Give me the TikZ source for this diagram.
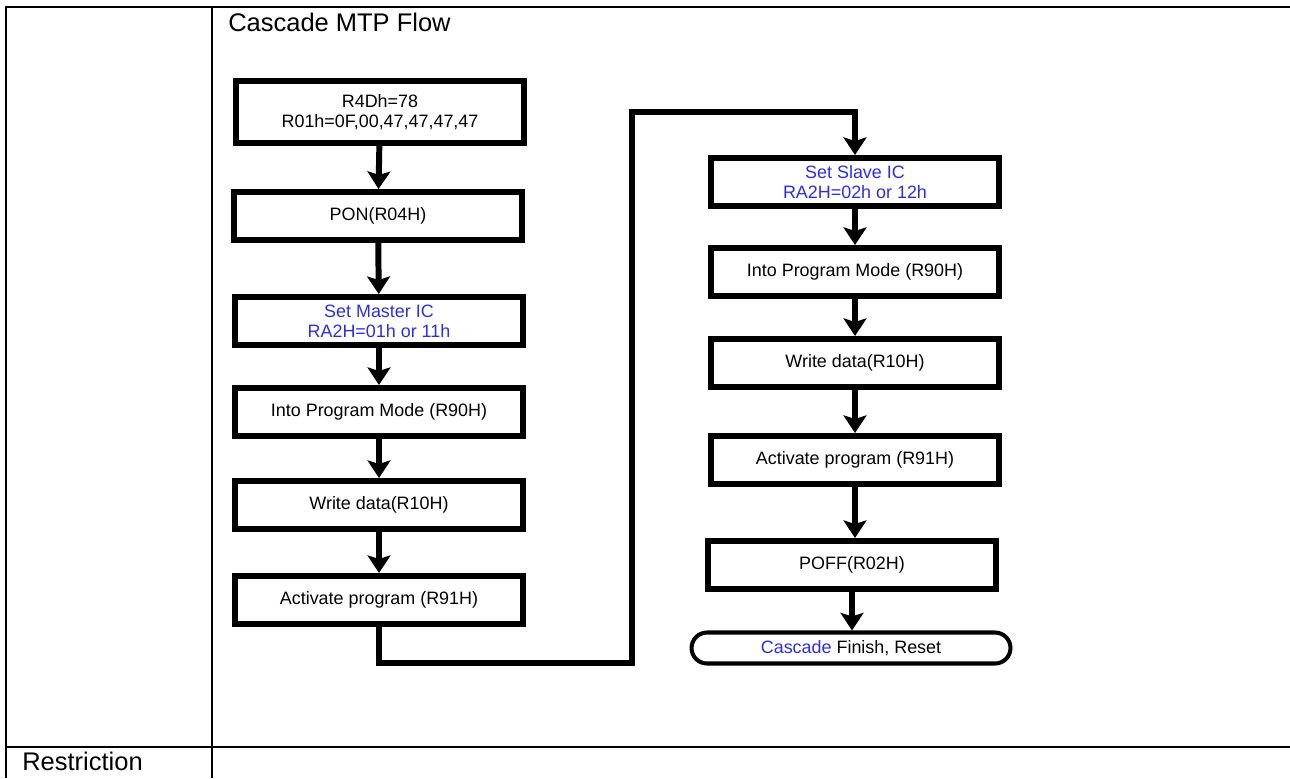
\documentclass[tikz,border=0pt]{standalone}
\usepackage{fontspec}
\setmainfont{Liberation Sans}
\usetikzlibrary{arrows.meta}
\definecolor{icblue}{RGB}{45,45,230}

\begin{document}
\begin{tikzpicture}[x=0.02cm, y=-0.02cm,
  stepbox/.style={draw, line width=3.4pt, minimum width=5.76cm, minimum height=0.96cm,
    inner sep=0pt, align=center, font=\fontsize{10.2}{11.5}\selectfont},
  endbox/.style={draw, line width=2.3pt, minimum width=6.38cm, minimum height=0.62cm,
    rounded corners=0.31cm, inner sep=0pt, font=\fontsize{10.2}{11.5}\selectfont},
  flow/.style={line width=3.4pt, -{Stealth[length=10pt, width=13pt, inset=2pt]}},
  rule/.style={line width=1.2pt},
  heading/.style={anchor=base west, inner sep=0pt, font=\fontsize{14.5}{16}\selectfont}]

  \useasboundingbox (0,0) rectangle (1290,778);

  % table frame
  \draw[rule] (6,778) -- (6,7) -- (1290,7);
  \draw[rule] (212,7) -- (212,778);
  \draw[rule] (6,747) -- (1290,747);

  \node[heading] (title) at (228,31) {Cascade MTP Flow};
  \node[heading] (restr) at (22,770) {Restriction};

  % master column
  \node[stepbox, minimum height=1.24cm] (m1) at (380,112) {R4Dh=78\\R01h=0F,00,47,47,47,47};
  \node[stepbox] (m2) at (378,216) {PON(R04H)};
  \node[stepbox, text=icblue] (m3) at (379,321) {Set Master IC\\RA2H=01h or 11h};
  \node[stepbox] (m4) at (379,412) {Into Program Mode (R90H)};
  \node[stepbox] (m5) at (379,505) {Write data(R10H)};
  \node[stepbox] (m6) at (379,600) {Activate program (R91H)};

  % slave column
  \node[stepbox, text=icblue] (s1) at (855,182) {Set Slave IC\\RA2H=02h or 12h};
  \node[stepbox] (s2) at (855,272) {Into Program Mode (R90H)};
  \node[stepbox] (s3) at (855,363) {Write data(R10H)};
  \node[stepbox] (s4) at (855,460) {Activate program (R91H)};
  \node[stepbox] (s5) at (852,565) {POFF(R02H)};
  \node[endbox] (fin) at (851,648) {\textcolor{icblue}{Cascade} Finish, Reset};

  \draw[flow] (m1) -- (m2);
  \draw[flow] (m2) -- (m3);
  \draw[flow] (m3) -- (m4);
  \draw[flow] (m4) -- (m5);
  \draw[flow] (m5) -- (m6);

  \coordinate (low) at (632,663);
  \coordinate (high) at (632,112);
  \draw[flow] (m6.south) |- (low) -- (high) -| (s1.north);

  \draw[flow] (s1) -- (s2);
  \draw[flow] (s2) -- (s3);
  \draw[flow] (s3) -- (s4);
  \draw[flow] (s4.south) -- (s4.south |- s5.north);
  \draw[flow] (s5.south) -- (s5.south |- fin.north);

\end{tikzpicture}
\end{document}
